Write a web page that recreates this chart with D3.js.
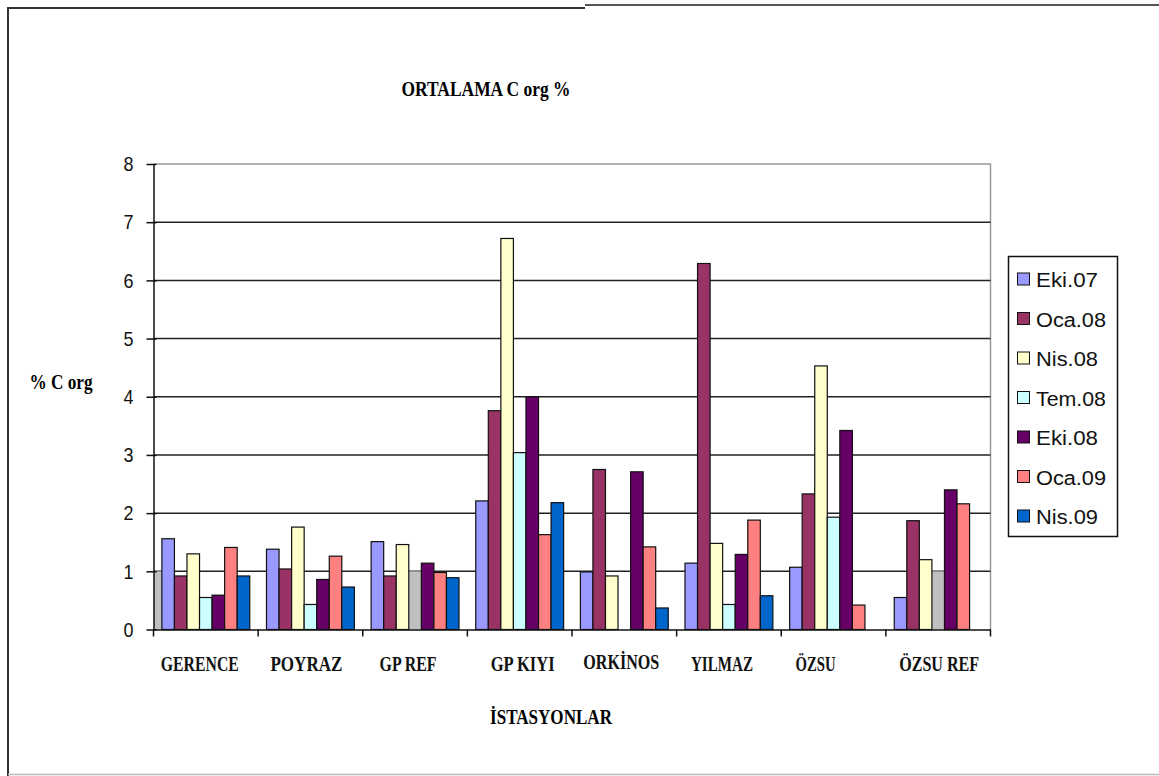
<!DOCTYPE html>
<html><head><meta charset="utf-8">
<script src="https://cdn.jsdelivr.net/npm/d3@7"></script>
<style>body{margin:0;background:#fff}svg{display:block}</style>
</head><body>
<script>
const categories = ["GERENCE","POYRAZ","GP REF","GP KIYI","ORKİNOS","YILMAZ","ÖZSU","ÖZSU REF"];
const seriesNames = ["Eki.07","Oca.08","Nis.08","Tem.08","Eki.08","Oca.09","Nis.09"];
const colors = ["#9999FF","#993366","#FFFFCC","#CCFFFF","#660066","#FF8080","#0066CC"];
const eki07 = [1.56,1.38,1.51,2.21,0.99,1.14,1.07,0.55];
const oca08 = [0.92,1.04,0.92,3.76,2.75,6.29,2.33,1.87];
const nis08 = [1.30,1.76,1.46,6.72,0.92,1.48,4.53,1.20];
const tem08 = [0.55,0.43,null,3.04,null,0.43,1.93,null];
const eki08 = [0.59,0.86,1.14,4.00,2.71,1.29,3.42,2.40];
const oca09 = [1.41,1.26,0.98,1.63,1.42,1.88,0.42,2.16];
const nis09 = [0.92,0.73,0.89,2.18,0.37,0.58,null,null];
const yTicks = [0,1,2,3,4,5,6,7,8];
// grey fill patches visible in the original (value 1 wells)
const greyPatches = [
  {cat:"GERENCE", slot:-1, value:1},
  {cat:"GP REF", slot:3, value:1},
  {cat:"ÖZSU REF", slot:3, value:1}
];
const series = [eki07,oca08,nis08,tem08,eki08,oca09,nis09];

(function(){
const W=1159,H=776;
const svg=d3.select("body").append("svg").attr("width",W).attr("height",H);
const pL=153.5,pR=990.5,pT=164,pB=629.5;
const x=d3.scaleBand().domain(categories).range([pL,pR]).paddingInner(0).paddingOuter(0);
const y=d3.scaleLinear().domain([0,8]).range([pB,pT]);
const inner=d3.scaleBand().domain(d3.range(7)).range([0,x.bandwidth()]).paddingOuter(0.667).paddingInner(0);
const bw=inner.bandwidth();
const serif="Liberation Serif, Times New Roman, serif", sans="Liberation Sans, Arial, sans-serif";

// outer frame
svg.append("line").attr("x1",8).attr("x2",585).attr("y1",8).attr("y2",8).attr("stroke","#333").attr("stroke-width",2);
svg.append("line").attr("x1",585).attr("x2",W).attr("y1",5).attr("y2",5).attr("stroke","#555").attr("stroke-width",2);
svg.append("line").attr("x1",8).attr("x2",8).attr("y1",7).attr("y2",H).attr("stroke","#333").attr("stroke-width",2);
svg.append("line").attr("x1",8).attr("x2",W).attr("y1",774.5).attr("y2",774.5).attr("stroke","#bbb").attr("stroke-width",1.5);

// plot area border (top/right)
svg.append("path").attr("d",`M${pL},${pT}H${pR}V${pB}`).attr("fill","none").attr("stroke","#999").attr("stroke-width",1.5);

// gridlines
svg.append("g").selectAll("line").data(yTicks.filter(t=>t>0&&t<8)).join("line")
  .attr("x1",pL).attr("x2",pR).attr("y1",d=>y(d)).attr("y2",d=>y(d))
  .attr("stroke","#222").attr("stroke-width",1.5);

// grey patches
svg.append("g").selectAll("rect").data(greyPatches).join("rect")
  .attr("x",d=>d.slot<0?x(d.cat):x(d.cat)+inner(d.slot))
  .attr("width",d=>d.slot<0?inner(0):bw)
  .attr("y",d=>y(d.value)).attr("height",d=>y(0)-y(d.value))
  .attr("fill","#C0C0C0");

// bars
series.forEach((vals,si)=>{
  svg.append("g").selectAll("rect").data(vals.map((v,i)=>({v,c:categories[i]})).filter(d=>d.v!=null)).join("rect")
    .attr("x",d=>x(d.c)+inner(si)).attr("width",bw)
    .attr("y",d=>y(d.v)).attr("height",d=>y(0)-y(d.v))
    .attr("fill",colors[si]).attr("stroke","#111").attr("stroke-width",1.2);
});

// y axis
const ya=d3.axisLeft(y).tickValues(yTicks).tickSizeInner(7).tickSizeOuter(0).tickPadding(13);
const gy=svg.append("g").attr("transform",`translate(${pL},0)`).call(ya);
gy.select(".domain").attr("stroke","#111").attr("stroke-width",1.5);
gy.selectAll(".tick line").attr("stroke","#111").attr("stroke-width",1.5).attr("x2",-7).attr("x1",3);
gy.selectAll(".tick text").attr("font-family",sans).attr("font-size",21).attr("fill","#111")
  .attr("textLength",10).attr("lengthAdjust","spacingAndGlyphs");

// x axis
const xa=d3.axisBottom(x).tickSize(0).tickFormat("");
const gx=svg.append("g").attr("transform",`translate(0,${pB})`).call(xa);
gx.select(".domain").attr("stroke","#111").attr("stroke-width",1.5);
const bounds=categories.map(c=>x(c)).concat([pR]);
svg.append("g").selectAll("line").data(bounds).join("line")
  .attr("x1",d=>d).attr("x2",d=>d).attr("y1",pB).attr("y2",pB+7).attr("stroke","#111").attr("stroke-width",1.5);

const labelOffsets=[-6,-4,-7,3,-3,-7,-18,1];
svg.append("g").selectAll("text").data(categories).join("text")
  .attr("x",(d,i)=>x(d)+x.bandwidth()/2+labelOffsets[i]).attr("y",(d,i)=>i===4?669:671)
  .attr("text-anchor","middle").attr("font-family",serif)
  .attr("font-weight","bold").attr("font-size",22).attr("fill","#111")
  .attr("textLength",(d,i)=>[78,72,57,64,76,62,40,80][i]).attr("lengthAdjust","spacingAndGlyphs")
  .text(d=>d);

// titles
svg.append("text").attr("x",486).attr("y",96).attr("text-anchor","middle")
  .attr("font-family",serif).attr("font-weight","bold").attr("font-size",20)
  .attr("textLength",169).attr("lengthAdjust","spacingAndGlyphs").text("ORTALAMA C org %");
svg.append("text").attr("x",61).attr("y",389).attr("text-anchor","middle")
  .attr("font-family",serif).attr("font-weight","bold").attr("font-size",20)
  .attr("textLength",63).attr("lengthAdjust","spacingAndGlyphs").text("% C org");
svg.append("text").attr("x",551).attr("y",724).attr("text-anchor","middle")
  .attr("font-family",serif).attr("font-weight","bold").attr("font-size",22)
  .attr("textLength",122).attr("lengthAdjust","spacingAndGlyphs").text("İSTASYONLAR");

// legend
const lg=svg.append("g");
lg.append("rect").attr("x",1008.5).attr("y",256.5).attr("width",109).attr("height",280).attr("fill","#fff").attr("stroke","#111").attr("stroke-width",1.5);
const ly=d3.scalePoint().domain(seriesNames).range([279,516]);
lg.selectAll("rect.sw").data(seriesNames).join("rect").attr("class","sw")
  .attr("x",1017.5).attr("y",d=>ly(d)-6).attr("width",12).attr("height",12)
  .attr("fill",(d,i)=>colors[i]).attr("stroke","#111").attr("stroke-width",1);
lg.selectAll("text.lt").data(seriesNames).join("text").attr("class","lt")
  .attr("x",1036).attr("y",d=>ly(d)+8).attr("font-family",sans)
  .attr("font-size",20).attr("fill","#111")
  .attr("textLength",d=>d[0]==="O"||d[0]==="T"?70:62).attr("lengthAdjust","spacingAndGlyphs")
  .text(d=>d);
})();
</script>
</body></html>
